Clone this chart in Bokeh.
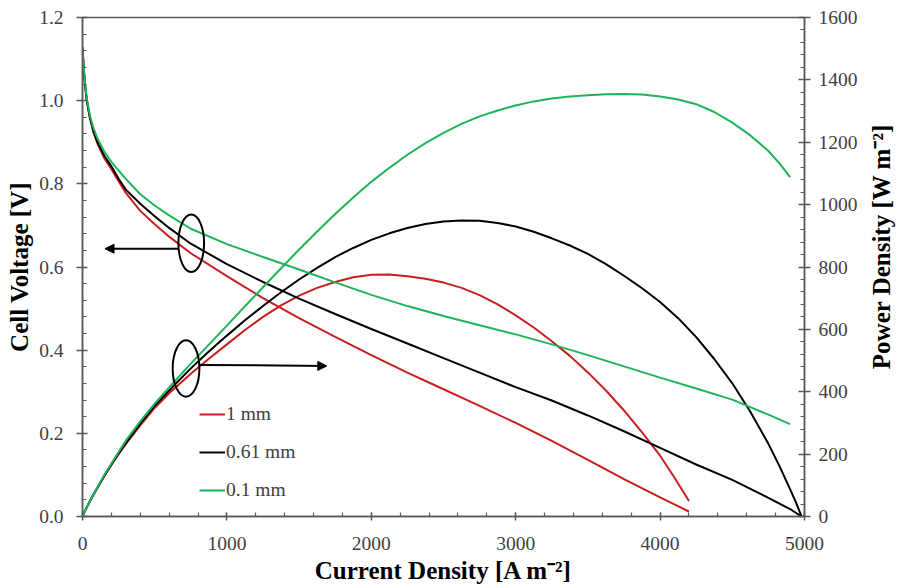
import numpy as np
from bokeh.plotting import figure
from bokeh.layouts import row
from bokeh.core.properties import value
from bokeh.models import (Range1d, LinearAxis, FixedTicker, Legend, LegendItem,
                          Arrow, NormalHead, PrintfTickFormatter)
from bokeh.embed import file_html
from bokeh.resources import INLINE

# ---------------- data ----------------
# cell voltage curves [V]
current_1mm = [0, 10, 20, 30, 50, 75, 100, 150, 200, 250, 300, 400, 500, 600, 750, 1000,
               1250, 1500, 1750, 2000, 2250, 2500, 2750, 3000, 3250, 3500, 3750, 4000, 4200]
voltage_1mm = [1.128, 1.07, 1.03, 1.0, 0.96, 0.925, 0.9, 0.862, 0.835, 0.806, 0.778, 0.735,
               0.703, 0.673, 0.633, 0.578, 0.525, 0.477, 0.432, 0.388, 0.346, 0.306, 0.266,
               0.225, 0.182, 0.136, 0.09, 0.046, 0.012]

current_061mm = [0, 10, 20, 30, 50, 75, 100, 150, 200, 250, 300, 400, 500, 600, 750, 1000,
                 1250, 1500, 1750, 2000, 2250, 2500, 2750, 3000, 3250, 3500, 3750, 4000,
                 4250, 4500, 4750, 4900, 4980]
voltage_061mm = [1.128, 1.07, 1.03, 1.0, 0.962, 0.928, 0.903, 0.868, 0.842, 0.812, 0.786,
                 0.752, 0.722, 0.694, 0.656, 0.607, 0.564, 0.524, 0.487, 0.451, 0.416,
                 0.381, 0.346, 0.311, 0.279, 0.243, 0.205, 0.165, 0.125, 0.088, 0.045,
                 0.018, 0.0]

current_01mm = [0, 10, 20, 30, 50, 75, 100, 150, 200, 250, 300, 400, 500, 600, 750, 1000,
                1250, 1500, 1750, 2000, 2250, 2500, 2750, 3000, 3250, 3500, 3750, 4000,
                4250, 4500, 4750, 4900]
voltage_01mm = [1.128, 1.075, 1.035, 1.005, 0.967, 0.935, 0.912, 0.878, 0.853, 0.832,
                0.812, 0.775, 0.748, 0.724, 0.692, 0.655, 0.624, 0.594, 0.563, 0.533,
                0.506, 0.482, 0.46, 0.438, 0.414, 0.388, 0.361, 0.334, 0.308, 0.281, 0.245,
                0.222]

# power density curves [W m-2]
pcurrent_1mm = [0, 10, 20, 30, 50, 75, 100, 150, 200, 250, 300, 400, 500, 600, 750, 875,
                1000, 1125, 1250, 1375, 1500, 1625, 1750, 1875, 2000, 2125, 2250, 2375,
                2500, 2625, 2750, 2875, 3000, 3125, 3250, 3375, 3500, 3625, 3750, 3875,
                4000, 4100, 4200]
power_1mm = [0, 10.7, 20.6, 30, 48, 69, 89, 128, 165, 200, 232, 292, 348, 395, 458, 506,
             552, 598, 640, 677, 708, 733, 752, 767, 775, 776, 770, 762, 750, 733, 710,
             680, 645, 606, 562, 515, 462, 404, 340, 270, 195, 124, 50]

pcurrent_061mm = [0, 10, 20, 30, 50, 75, 100, 150, 200, 250, 300, 400, 500, 625, 750, 875,
                  1000, 1125, 1250, 1375, 1500, 1625, 1750, 1875, 2000, 2125, 2250, 2375,
                  2500, 2625, 2750, 2875, 3000, 3125, 3250, 3375, 3500, 3625, 3750, 3875,
                  4000, 4125, 4250, 4375, 4500, 4625, 4750, 4825, 4900, 4940, 4980]
power_061mm = [0, 10.7, 20.6, 30, 48, 70, 90, 130, 167, 203, 235, 298, 355, 416, 475, 529,
               580, 629, 675, 719, 760, 797, 832, 861, 887, 908, 925, 938, 946, 949, 948,
               941, 930, 913, 892, 869, 842, 809, 772, 732, 688, 636, 575, 505, 427, 336,
               233, 163, 88, 46, 0]

pcurrent_01mm = [0, 10, 20, 30, 50, 75, 100, 150, 200, 250, 300, 400, 500, 625, 750, 875,
                 1000, 1125, 1250, 1375, 1500, 1625, 1750, 1875, 2000, 2125, 2250, 2375,
                 2500, 2625, 2750, 2875, 3000, 3125, 3250, 3375, 3500, 3625, 3750, 3875,
                 4000, 4125, 4250, 4375, 4500, 4625, 4750, 4825, 4900]
power_01mm = [0, 10.7, 20.7, 30, 48, 70, 91, 132, 170, 207, 243, 305, 362, 427, 490, 551,
              612, 674, 735, 796, 856, 914, 970, 1023, 1073, 1118, 1160, 1197, 1230, 1259,
              1283, 1302, 1318, 1331, 1340, 1347, 1351, 1354, 1355, 1353, 1347, 1337, 1322,
              1297, 1263, 1222, 1172, 1133, 1088]

series_labels = ["1 mm", "0.61 mm", "0.1 mm"]
series_colors = ["#C81E1E", "#000000", "#1DB45A"]

x_ticks = [0, 1000, 2000, 3000, 4000, 5000]
v_ticks = [0.0, 0.2, 0.4, 0.6, 0.8, 1.0, 1.2]
p_ticks = [0, 200, 400, 600, 800, 1000, 1200, 1400, 1600]

x_title = "Current Density [A m\u207b\u00b2]"
v_title = "Cell Voltage [V]"
p_title = "Power Density [W m\u207b\u00b2]"

# annotation ellipses (center x, center y in voltage units, width, height)
ell_x = [753, 717]
ell_y = [0.657, 0.356]
ell_w = [178, 185]
ell_h = [0.1385, 0.136]
# arrows (start -> end)
arr_x0 = [664, 814]
arr_y0 = [0.644, 0.3646]
arr_x1 = [156, 1692]
arr_y1 = [0.644, 0.362]

# ---------------- figure ----------------
SERIF = "Liberation Serif"
AX_COL = "#595959"
TXT_COL = "#404040"
H = 586

p = figure(width=864, height=H, output_backend="svg", toolbar_location=None,
           x_range=Range1d(0, 5000), y_range=Range1d(0, 1.2),
           min_border_left=82, min_border_right=60, min_border_top=17, min_border_bottom=69)
p.extra_y_ranges = {"power": Range1d(0, 1600)}
p.grid.visible = False
p.outline_line_color = AX_COL
p.outline_line_width = 1.5
p.background_fill_color = "white"


def style_axis(ax, in_len, out_len):
    ax.axis_line_color = AX_COL
    ax.axis_line_width = 1.5
    ax.major_tick_line_color = AX_COL
    ax.minor_tick_line_color = AX_COL
    ax.major_tick_line_width = 1.5
    ax.minor_tick_line_width = 1.2
    ax.major_tick_in = in_len
    ax.major_tick_out = out_len
    ax.minor_tick_in = 4
    ax.minor_tick_out = 0
    ax.major_label_text_font = SERIF
    ax.major_label_text_font_size = "19.5px"
    ax.major_label_text_color = TXT_COL
    ax.axis_label_text_font = SERIF
    ax.axis_label_text_font_style = "bold"
    ax.axis_label_text_font_size = "25px"
    ax.axis_label_text_color = "black"


xa = p.xaxis[0]
xa.ticker = FixedTicker(ticks=x_ticks, minor_ticks=list(np.arange(0, 5001, 200)))
xa.axis_label = x_title
style_axis(xa, 4, 4)
xa.major_label_standoff = 16
xa.axis_label_standoff = 4

ya = p.yaxis[0]
ya.ticker = FixedTicker(ticks=v_ticks, minor_ticks=list(np.round(np.arange(0, 1.2001, 0.04), 2)))
ya.formatter = PrintfTickFormatter(format="%.1f")
ya.axis_label = v_title
style_axis(ya, 5, 6)
ya.major_label_standoff = 13
ya.axis_label_standoff = 3

ra = LinearAxis(y_range_name="power",
                ticker=FixedTicker(ticks=p_ticks, minor_ticks=list(np.arange(0, 1601, 40))))
style_axis(ra, 6, 6)
ra.major_label_standoff = 8
p.add_layout(ra, "right")

# ---------------- curves ----------------
items = []
vsets = [(current_1mm, voltage_1mm), (current_061mm, voltage_061mm), (current_01mm, voltage_01mm)]
psets = [(pcurrent_1mm, power_1mm), (pcurrent_061mm, power_061mm), (pcurrent_01mm, power_01mm)]
for (vc, vv), (pc, pv), lab, col in zip(vsets, psets, series_labels, series_colors):
    rv = p.line(vc, vv, line_color=col, line_width=2)
    p.line(pc, pv, line_color=col, line_width=2, y_range_name="power")
    items.append(LegendItem(label=lab, renderers=[rv]))

legend = Legend(items=items, location=(117, 15), glyph_width=26, glyph_height=20,
                label_height=20, spacing=16, label_standoff=1, padding=0, margin=0,
                border_line_color=None, background_fill_alpha=0,
                label_text_font=SERIF, label_text_font_size="19.5px", label_text_color=TXT_COL)
p.add_layout(legend, "center")

# ---------------- annotations ----------------
p.ellipse(x=ell_x, y=ell_y, width=ell_w, height=ell_h, fill_color=None,
          line_color="black", line_width=2)
for x0, y0, x1, y1 in zip(arr_x0, arr_y0, arr_x1, arr_y1):
    p.add_layout(Arrow(end=NormalHead(size=9, fill_color="black", line_color="black"),
                       x_start=x0, y_start=y0, x_end=x1, y_end=y1,
                       line_color="black", line_width=2))

# ---------------- right-hand axis title (reads bottom to top) ----------------
t = figure(width=32, height=H, output_backend="svg", toolbar_location=None,
           x_range=Range1d(0, 1), y_range=Range1d(0, 1),
           min_border_left=0, min_border_right=0, min_border_top=0, min_border_bottom=0)
t.axis.visible = False
t.grid.visible = False
t.outline_line_color = None
t.text(x=[0.52], y=[0.541], text=[p_title], angle=np.pi / 2,
       text_align="center", text_baseline="middle",
       text_font=value(SERIF), text_font_style="bold", text_font_size="25px",
       text_color="black")

layout = row(p, t, spacing=0)
open("out.html", "w").write(file_html(layout, INLINE))
